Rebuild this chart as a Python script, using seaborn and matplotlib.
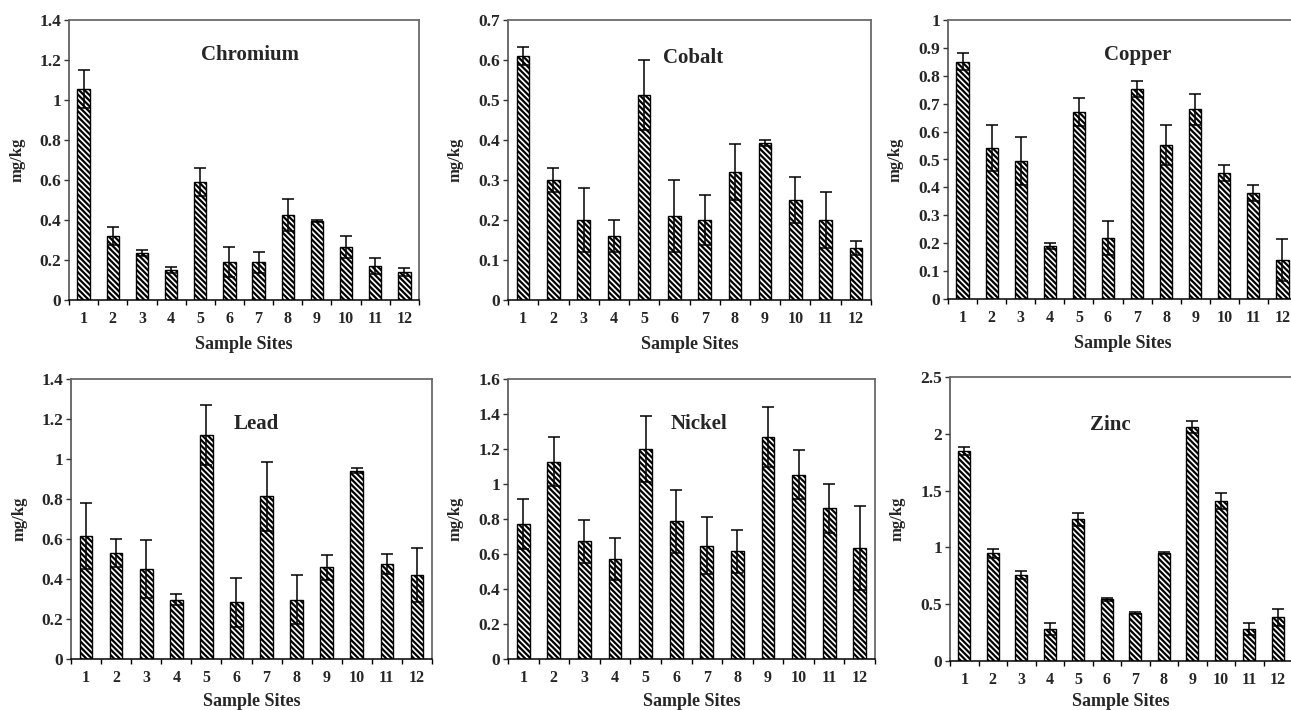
import numpy as np
import pandas as pd
import matplotlib
matplotlib.use("Agg")
import matplotlib.pyplot as plt
from matplotlib.ticker import FuncFormatter, MultipleLocator
import seaborn as sns

# ---------------- data ----------------
sites = [str(i) for i in range(1, 13)]

chromium = [1.055, 0.32, 0.235, 0.152, 0.59, 0.188, 0.188, 0.425, 0.395, 0.265, 0.17, 0.142]
chromium_err = [0.095, 0.045, 0.015, 0.015, 0.07, 0.075, 0.052, 0.078, 0.006, 0.055, 0.04, 0.02]

cobalt = [0.61, 0.30, 0.20, 0.16, 0.512, 0.21, 0.20, 0.32, 0.393, 0.25, 0.20, 0.13]
cobalt_err = [0.022, 0.03, 0.079, 0.04, 0.088, 0.091, 0.062, 0.071, 0.007, 0.058, 0.069, 0.018]

copper = [0.85, 0.54, 0.495, 0.19, 0.67, 0.218, 0.753, 0.551, 0.68, 0.452, 0.38, 0.14]
copper_err = [0.031, 0.082, 0.086, 0.011, 0.051, 0.061, 0.03, 0.071, 0.055, 0.03, 0.03, 0.076]

lead = [0.615, 0.53, 0.45, 0.297, 1.12, 0.283, 0.813, 0.297, 0.458, 0.942, 0.477, 0.42]
lead_err = [0.167, 0.07, 0.145, 0.028, 0.149, 0.122, 0.171, 0.122, 0.062, 0.012, 0.05, 0.137]

nickel = [0.772, 1.126, 0.672, 0.573, 1.2, 0.787, 0.648, 0.615, 1.267, 1.052, 0.862, 0.632]
nickel_err = [0.145, 0.14, 0.123, 0.12, 0.19, 0.18, 0.165, 0.122, 0.171, 0.14, 0.14, 0.24]

zinc = [1.85, 0.947, 0.756, 0.281, 1.246, 0.542, 0.425, 0.95, 2.06, 1.41, 0.281, 0.384]
zinc_err = [0.035, 0.038, 0.035, 0.05, 0.055, 0.01, 0.007, 0.008, 0.056, 0.07, 0.05, 0.073]

titles = ["Chromium", "Cobalt", "Copper", "Lead", "Nickel", "Zinc"]
y_max = [1.4, 0.7, 1.0, 1.4, 1.6, 2.5]
y_step = [0.2, 0.1, 0.1, 0.2, 0.2, 0.5]
x_label = "Sample Sites"
y_label = "mg/kg"

series = [(chromium, chromium_err), (cobalt, cobalt_err), (copper, copper_err),
          (lead, lead_err), (nickel, nickel_err), (zinc, zinc_err)]

# ---------------- style ----------------
sns.set_theme(style="white")
plt.rcParams["font.family"] = ["Liberation Serif", "DejaVu Serif"]
plt.rcParams["font.weight"] = "bold"
plt.rcParams["hatch.linewidth"] = 1.6
plt.rcParams["hatch.color"] = "black"

W, H = 1291, 710
fig = plt.figure(figsize=(W / 100, H / 100), dpi=100)
fig.patch.set_facecolor("white")

# axes boxes in pixels: (left, top, right, bottom)
boxes = [(69, 20, 419, 300), (508, 20, 871, 300), (948, 20, 1297, 299),
         (71, 379, 432, 659), (508, 379, 875, 659), (950, 377, 1292, 661)]
title_x = [0.518, 0.51, 0.543, 0.512, 0.52, 0.47]
title_y = [0.875, 0.865, 0.875, 0.84, 0.84, 0.83]
xlabel_off = [36, 36, 36, 34, 34, 32]

for i, ((vals, errs), box) in enumerate(zip(series, boxes)):
    l, t, r, b = box
    ax = fig.add_axes([l / W, 1 - b / H, (r - l) / W, (b - t) / H])
    df = pd.DataFrame({"site": sites, "value": vals})
    sns.barplot(data=df, x="site", y="value", order=sites, ax=ax, color="white",
                edgecolor="black", linewidth=1.0, width=0.42, errorbar=None,
                saturation=1)
    for p in ax.patches:
        p.set_hatch("\\\\\\\\\\\\")
        p.set_facecolor("white")
        p.set_edgecolor("black")
    ax.errorbar(np.arange(len(sites)), vals, yerr=errs, fmt="none",
                ecolor="black", elinewidth=1.1, capsize=4.2, capthick=1.1,
                zorder=5)
    ax.set_xlim(-0.5, len(sites) - 0.5)
    ax.set_ylim(0, y_max[i])
    ax.yaxis.set_major_locator(MultipleLocator(y_step[i]))
    ax.yaxis.set_major_formatter(FuncFormatter(lambda v, pos: f"{v:.2f}".rstrip("0").rstrip(".")))
    # category-boundary ticks on x
    ax.set_xticks(np.arange(len(sites)))
    ax.set_xticklabels(sites)
    ax.set_xticks(np.arange(-0.5, len(sites) + 0.5, 1), minor=True)
    ax.tick_params(axis="x", which="major", length=0, pad=8, labelsize=11.5)
    ax.tick_params(axis="x", which="minor", length=3.5, width=1.0, color="black",
                   direction="out", bottom=True)
    ax.tick_params(axis="y", length=3.5, width=1.0, color="#333333",
                   direction="out", left=True, pad=2, labelsize=12.5)
    for lab in ax.get_xticklabels() + ax.get_yticklabels():
        lab.set_fontweight("bold")
    for side in ["top", "right"]:
        ax.spines[side].set_color("#6a6a6a")
        ax.spines[side].set_linewidth(1.3)
    ax.spines["left"].set_color("#444444")
    ax.spines["left"].set_linewidth(1.1)
    ax.spines["bottom"].set_color("black")
    ax.spines["bottom"].set_linewidth(1.1)

    ax.set_xlabel(x_label, fontsize=13, fontweight="bold")
    ax.set_ylabel(y_label, fontsize=12, fontweight="bold")
    wpx = r - l
    hpx = b - t
    ax.xaxis.set_label_coords(0.5, -xlabel_off[i] / hpx)
    ax.yaxis.set_label_coords(-44 / wpx, 0.5)
    ax.text(title_x[i], title_y[i], titles[i], transform=ax.transAxes, ha="center",
            va="center", fontsize=15, fontweight="bold")

fig.savefig("out.png", dpi=100, facecolor="white")
